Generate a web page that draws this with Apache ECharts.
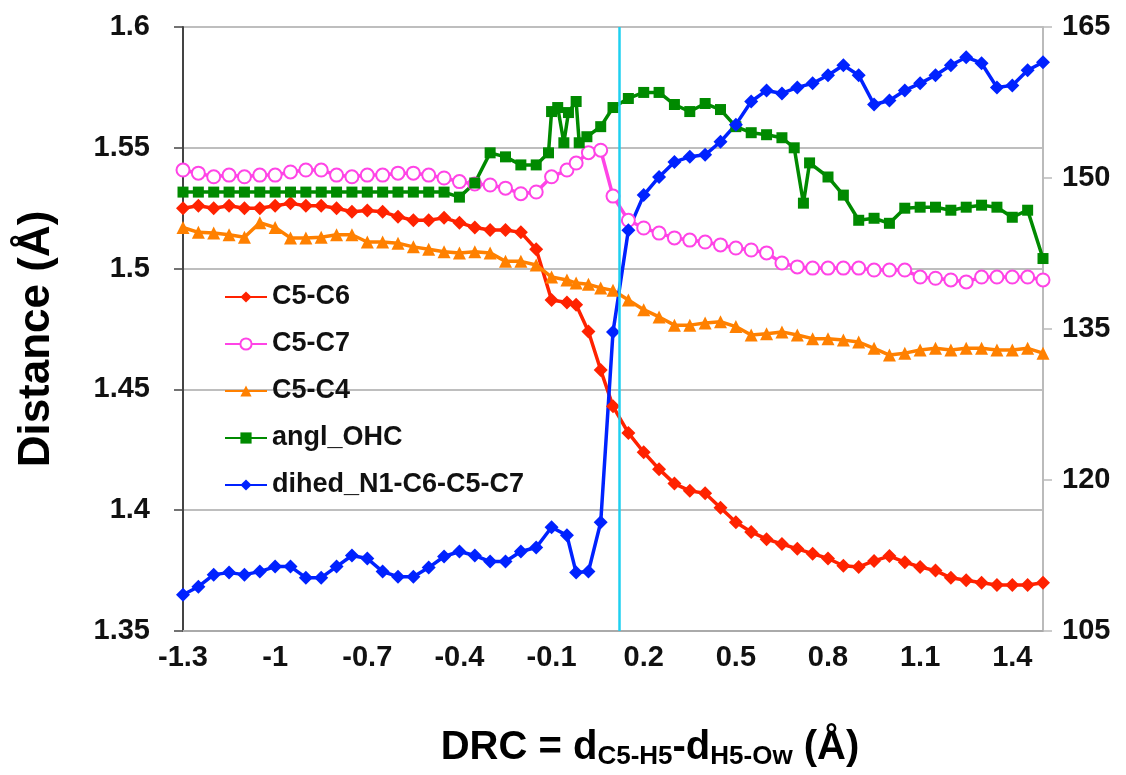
<!DOCTYPE html>
<html>
<head>
<meta charset="utf-8">
<script src="https://cdn.jsdelivr.net/npm/echarts@6/dist/echarts.min.js"></script>
<style>
	html, body { margin: 0; padding: 0; background: #fff; }
	#mychart { width: 1126px; height: 775px; }
</style>
</head>
<body>
<div id="mychart"></div>
<script>
// DRC values shared by the distance series and the dihedral
var drc = [-1.3, -1.25, -1.2, -1.15, -1.1, -1.05, -1, -0.95, -0.9, -0.85, -0.8, -0.75, -0.7, -0.65,
	-0.6, -0.55, -0.5, -0.45, -0.4, -0.35, -0.3, -0.25, -0.2, -0.15, -0.1, -0.05, -0.02, 0.02, 0.06, 0.1,
	0.15, 0.2, 0.25, 0.3, 0.35, 0.4, 0.45, 0.5, 0.55, 0.6, 0.65, 0.7, 0.75, 0.8, 0.85, 0.9, 0.95, 1,
	1.05, 1.1, 1.15, 1.2, 1.25, 1.3, 1.35, 1.4, 1.45, 1.5];

var c5c6 = [1.525, 1.526, 1.525, 1.526, 1.525, 1.525, 1.526, 1.527, 1.526, 1.526, 1.525, 1.5235, 1.524, 1.5235,
	1.5215, 1.520, 1.520, 1.521, 1.519, 1.517, 1.516, 1.516, 1.515, 1.508, 1.487, 1.486, 1.485, 1.474, 1.458, 1.443,
	1.432, 1.424, 1.417, 1.411, 1.408, 1.407, 1.401, 1.395, 1.391, 1.388, 1.386, 1.384, 1.382, 1.380, 1.377, 1.3765,
	1.379, 1.381, 1.3785, 1.3765, 1.375, 1.372, 1.371, 1.370, 1.369, 1.369, 1.369, 1.370];

var c5c7 = [1.5408, 1.5395, 1.538, 1.5387, 1.538, 1.5387, 1.5387, 1.540, 1.5408, 1.5408, 1.5387, 1.538, 1.5387, 1.5387,
	1.5395, 1.5395, 1.5387, 1.5375, 1.536, 1.535, 1.5346, 1.5333, 1.531, 1.5317, 1.538, 1.5408, 1.5437, 1.548, 1.549, 1.530,
	1.520, 1.5168, 1.5147, 1.5127, 1.5118, 1.511, 1.5098, 1.5085, 1.5077, 1.5065, 1.5023, 1.5007, 1.5002, 1.5002, 1.5002, 1.5002,
	1.4994, 1.4994, 1.4994, 1.4965, 1.496, 1.4953, 1.4945, 1.4965, 1.4965, 1.4965, 1.4965, 1.4953];

var c5c4 = [1.517, 1.515, 1.5147, 1.514, 1.513, 1.519, 1.517, 1.5127, 1.5127, 1.513, 1.514, 1.514, 1.511, 1.511,
	1.5105, 1.509, 1.508, 1.507, 1.5065, 1.507, 1.5065, 1.503, 1.503, 1.5015, 1.4965, 1.4953, 1.494, 1.4935, 1.492, 1.491,
	1.487, 1.483, 1.480, 1.4766, 1.4766, 1.4775, 1.478, 1.476, 1.4725, 1.473, 1.4738, 1.4725, 1.471, 1.471, 1.4704, 1.4696,
	1.467, 1.4642, 1.465, 1.4663, 1.467, 1.4663, 1.467, 1.467, 1.4663, 1.4663, 1.467, 1.465];

var dihed = [108.6, 109.4, 110.6, 110.8, 110.6, 110.9, 111.4, 111.4, 110.3, 110.3, 111.4, 112.5, 112.2, 110.9,
	110.4, 110.4, 111.3, 112.4, 112.9, 112.5, 111.9, 111.9, 112.9, 113.3, 115.3, 114.5, 110.8, 110.9, 115.8, 134.7,
	144.8, 148.3, 150.1, 151.6, 152.1, 152.3, 153.6, 155.3, 157.6, 158.7, 158.4, 159.0, 159.4, 160.2, 161.2, 160.2,
	157.3, 157.7, 158.7, 159.4, 160.2, 161.2, 162.0, 161.4, 159.0, 159.2, 160.7, 161.5];

// the angle series was sampled on its own DRC points
var ohcDrc = [-1.3, -1.25, -1.2, -1.15, -1.1, -1.05, -1, -0.95, -0.9, -0.85, -0.8, -0.75, -0.7, -0.65,
	-0.6, -0.55, -0.5, -0.45, -0.4, -0.35, -0.3, -0.25, -0.2, -0.15, -0.11, -0.1, -0.08, -0.06, -0.045, -0.02,
	-0.01, 0.015, 0.06, 0.1, 0.15, 0.2, 0.25, 0.3, 0.35, 0.4, 0.45, 0.5, 0.55, 0.6, 0.65, 0.69, 0.72, 0.74,
	0.8, 0.85, 0.9, 0.95, 1, 1.05, 1.1, 1.15, 1.2, 1.25, 1.3, 1.35, 1.4, 1.45, 1.5];

var anglOhc = [148.6, 148.6, 148.6, 148.6, 148.6, 148.6, 148.6, 148.6, 148.6, 148.6, 148.6, 148.6, 148.6, 148.6,
	148.6, 148.6, 148.6, 148.6, 148.1, 149.5, 152.5, 152.1, 151.3, 151.3, 152.5, 156.6, 157.0, 153.5, 156.5, 157.6,
	153.5, 154.1, 155.1, 157.0, 157.9, 158.5, 158.5, 157.3, 156.6, 157.4, 156.8, 155.1, 154.5, 154.3, 154.0, 153.0, 147.5, 151.5,
	150.1, 148.3, 145.8, 146.0, 145.5, 147.0, 147.1, 147.1, 146.8, 147.1, 147.3, 147.1, 146.1, 146.8, 142.0];

var seriesNames = ['C5-C6', 'C5-C7', 'C5-C4', 'angl_OHC', 'dihed_N1-C6-C5-C7'];

// transition state position (vertical marker)
var tsDrc = 0.12;

var fontFamily = '"Liberation Sans", Arial, Helvetica, sans-serif';

var plot = {
	initial : function initial() {
		var myChart = echarts.init(document.getElementById('mychart'), null, { renderer : 'canvas' });
		myChart.setOption(this.buildOption());
	},

	pairs : function pairs(xs, ys) {
		var list = [];
		for (var i = 0; i < xs.length; i++) {
			list.push([xs[i], ys[i]]);
		}
		return list;
	},

	line : function line(name, xs, ys, color, symbol, size, yIndex) {
		return {
			name : name,
			type : 'line',
			yAxisIndex : yIndex,
			data : plot.pairs(xs, ys),
			symbol : symbol,
			symbolSize : size,
			showAllSymbol : true,
			animation : false,
			lineStyle : { color : color, width : 3.5 },
			itemStyle : { color : color, borderColor : color, borderWidth : symbol == 'emptyCircle' ? 2.2 : 0 }
		};
	},

	buildOption : function buildOption() {
		var labelStyle = { color : '#111', fontSize : 29, fontWeight : 'bold', fontFamily : fontFamily };

		var series = [
			plot.line(seriesNames[0], drc, c5c6, '#ff2200', 'diamond', 14, 0),
			plot.line(seriesNames[1], drc, c5c7, '#ff44e6', 'emptyCircle', 13, 0),
			plot.line(seriesNames[2], drc, c5c4, '#ff8000', 'triangle', 13, 0),
			plot.line(seriesNames[3], ohcDrc, anglOhc, '#008a00', 'rect', 11, 1),
			plot.line(seriesNames[4], drc, dihed, '#0022ff', 'diamond', 14, 1)
		];
		series[4].markLine = {
			silent : true,
			symbol : 'none',
			z : 10,
			label : { show : false },
			lineStyle : { color : '#1fd0f0', width : 2.5, type : 'solid' },
			data : [ { xAxis : tsDrc } ]
		};

		return {
			backgroundColor : '#fff',
			animation : false,
			grid : { left : 183, right : 83, top : 27, bottom : 144 },
			legend : {
				data : seriesNames,
				orient : 'vertical',
				left : 219,
				top : 278,
				itemWidth : 42,
				itemHeight : 14,
				itemGap : 19,
				textStyle : { color : '#111', fontSize : 27, fontWeight : 'bold', fontFamily : fontFamily, lineHeight : 28 }
			},
			xAxis : {
				type : 'value',
				min : -1.3,
				max : 1.5,
				interval : 0.3,
				name : '{b|DRC = d}{s|C5-H5}{b|-d}{s|H5-Ow}{b| (\u00c5)}',
				nameLocation : 'middle',
				nameGap : 95,
				nameTextStyle : {
					padding : [0, 0, 0, 74],
					rich : {
						b : { fontSize : 40, fontWeight : 'bold', fontFamily : fontFamily, color : '#000', lineHeight : 44 },
						s : { fontSize : 26, fontWeight : 'bold', fontFamily : fontFamily, color : '#000', lineHeight : 12, verticalAlign : 'bottom' }
					}
				},
				axisLine : { onZero : false, lineStyle : { color : '#aaa', width : 2 } },
				axisTick : { show : false },
				splitLine : { show : false },
				axisLabel : {
					margin : 12,
					showMaxLabel : false,
					color : labelStyle.color,
					fontSize : labelStyle.fontSize,
					fontWeight : labelStyle.fontWeight,
					fontFamily : labelStyle.fontFamily,
					formatter : function(v) {
						return String(Math.round(v * 10) / 10);
					}
				}
			},
			yAxis : [
				{
					type : 'value',
					min : 1.35,
					max : 1.6,
					interval : 0.05,
					name : 'Distance (\u00c5)',
					nameLocation : 'middle',
					nameGap : 124,
					nameTextStyle : { fontSize : 44, fontWeight : 'bold', fontFamily : fontFamily, color : '#000', padding : [0, 20, 0, 0] },
					axisLine : { show : true, onZero : false, lineStyle : { color : '#444', width : 2 } },
					axisTick : { show : true, length : 9, lineStyle : { color : '#444', width : 1.5 } },
					splitLine : { show : true, lineStyle : { color : '#a8a8a8', width : 1.5 } },
					axisLabel : {
						margin : 33,
						color : labelStyle.color,
						fontSize : labelStyle.fontSize,
						fontWeight : labelStyle.fontWeight,
						fontFamily : labelStyle.fontFamily
					}
				},
				{
					type : 'value',
					min : 105,
					max : 165,
					interval : 15,
					position : 'right',
					axisLine : { show : true, onZero : false, lineStyle : { color : '#bbb', width : 2 } },
					axisTick : { show : true, length : 9, lineStyle : { color : '#bbb', width : 1.5 } },
					splitLine : { show : false },
					axisLabel : {
						margin : 19,
						color : labelStyle.color,
						fontSize : labelStyle.fontSize,
						fontWeight : labelStyle.fontWeight,
						fontFamily : labelStyle.fontFamily
					}
				}
			],
			series : series
		};
	}
};

plot.initial();
</script>
</body>
</html>
